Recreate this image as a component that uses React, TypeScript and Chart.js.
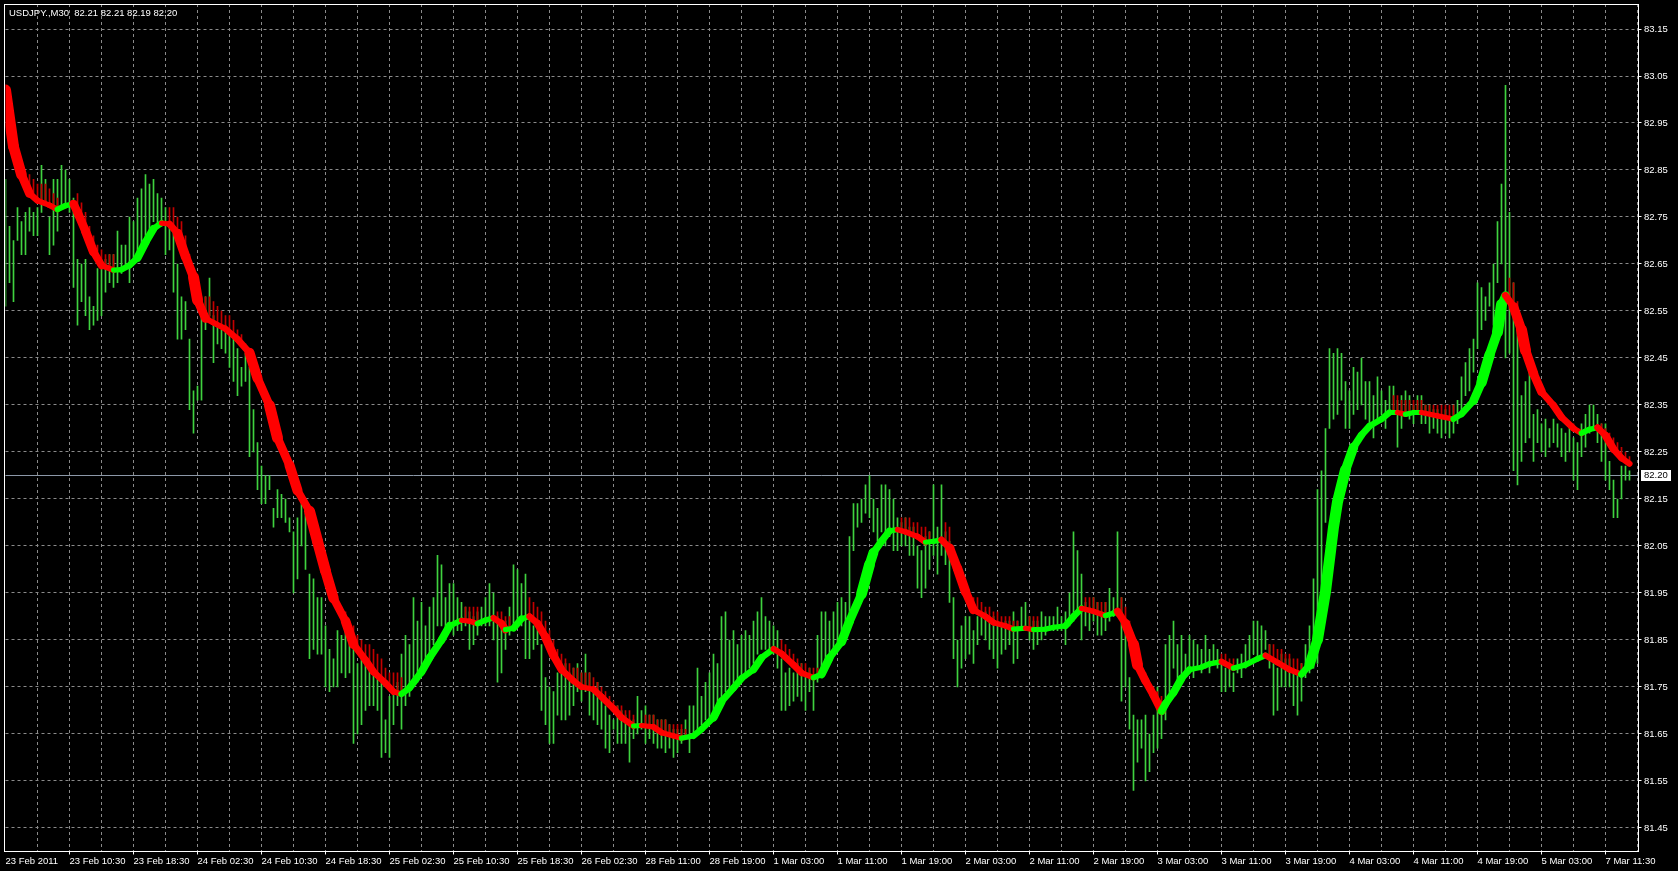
import { useEffect, useRef } from 'react';
import { Chart, registerables } from 'chart.js';

Chart.register(...registerables);

const TITLE = 'USDJPY.,M30  82.21 82.21 82.19 82.20';
const CURRENT_PRICE = 82.2;

const TIME_LABELS = [
  '23 Feb 2011', '23 Feb 10:30', '23 Feb 18:30', '24 Feb 02:30', '24 Feb 10:30', '24 Feb 18:30',
  '25 Feb 02:30', '25 Feb 10:30', '25 Feb 18:30', '26 Feb 02:30', '28 Feb 11:00', '28 Feb 19:00',
  '1 Mar 03:00', '1 Mar 11:00', '1 Mar 19:00', '2 Mar 03:00', '2 Mar 11:00', '2 Mar 19:00',
  '3 Mar 03:00', '3 Mar 11:00', '3 Mar 19:00', '4 Mar 03:00', '4 Mar 11:00', '4 Mar 19:00',
  '5 Mar 03:00', '7 Mar 11:30',
];
const BARS_PER_LABEL = 16;
const BARS_PER_GRID = 8;

const PRICE_TICKS = [
  83.15, 83.05, 82.95, 82.85, 82.75, 82.65, 82.55, 82.45, 82.35,
  82.25, 82.15, 82.05, 81.95, 81.85, 81.75, 81.65, 81.55, 81.45,
];
const Y_MIN = 81.401;
const Y_MAX = 83.2032;
const X_MAX = 408.125;

// M30 bar highs (bar 0 = leftmost bar)
const HIGHS = [
  82.83, 82.73, 82.70, 82.77, 82.74, 82.76, 82.77, 82.76, 82.77, 82.86,
  82.83, 82.75, 82.83, 82.83, 82.86, 82.85, 82.83, 82.79, 82.66, 82.65,
  82.66, 82.58, 82.56, 82.64, 82.64, 82.66, 82.67, 82.67, 82.72, 82.69,
  82.69, 82.75, 82.74, 82.79, 82.81, 82.84, 82.82, 82.83, 82.80, 82.79,
  82.77, 82.74, 82.72, 82.65, 82.58, 82.57, 82.49, 82.38, 82.39, 82.57,
  82.58, 82.62, 82.54, 82.52, 82.51, 82.52, 82.51, 82.50, 82.47, 82.43,
  82.46, 82.43, 82.34, 82.27, 82.22, 82.20, 82.20, 82.13, 82.17, 82.16,
  82.15, 82.11, 82.08, 82.11, 82.14, 82.12, 81.99, 81.98, 81.94, 81.94,
  81.88, 81.83, 81.81, 81.87, 81.86, 81.87, 81.87, 81.84, 81.80, 81.81,
  81.81, 81.80, 81.78, 81.77, 81.77, 81.68, 81.73, 81.74, 81.76, 81.82,
  81.86, 81.84, 81.94,
  81.89, 81.93, 81.88, 81.92, 81.94, 82.03, 82.01, 81.94, 81.97, 81.97,
  81.94, 81.93, 81.92, 81.91, 81.90, 81.91, 81.92, 81.94, 81.97, 81.95,
  81.90, 81.88, 81.89, 81.92, 82.01, 82.00, 81.97, 81.99, 81.90, 81.88,
  81.88, 81.84, 81.77, 81.75, 81.74, 81.78, 81.78, 81.80, 81.78, 81.79,
  81.80, 81.78, 81.82, 81.78, 81.74, 81.76, 81.73, 81.71, 81.69, 81.68,
  81.71, 81.70, 81.69, 81.68, 81.68, 81.73, 81.70, 81.71, 81.69, 81.69,
  81.68, 81.68, 81.68, 81.67, 81.66, 81.66, 81.66, 81.68, 81.71, 81.71,
  81.79, 81.73, 81.76, 81.78, 81.82, 81.80, 81.90, 81.91, 81.85, 81.87,
  81.84, 81.86, 81.87, 81.86, 81.89, 81.91, 81.94, 81.90, 81.89, 81.88,
  81.87, 81.81, 81.78, 81.79, 81.78, 81.80, 81.80, 81.78, 81.79, 81.77,
  81.86,
  81.91, 81.91, 81.89, 81.91, 81.93, 81.94, 81.93, 82.07, 82.14, 82.14,
  82.15, 82.18, 82.20, 82.15, 82.13, 82.18, 82.18, 82.17, 82.15, 82.11,
  82.10, 82.11, 82.09, 82.09, 82.05, 82.04, 82.07, 82.08, 82.18, 82.09,
  82.18, 82.08, 82.06, 81.94, 81.85, 81.88, 81.90, 81.90, 81.87, 81.90,
  81.91, 81.91, 81.90, 81.90, 81.89, 81.88, 81.89, 81.89, 81.91, 81.89,
  81.92, 81.93, 81.90, 81.89, 81.89, 81.91, 81.90, 81.90, 81.90, 81.92,
  81.90, 81.91, 81.95, 82.08, 82.04, 81.99, 81.93, 81.92, 81.94, 81.93,
  81.91, 81.93, 81.96, 81.94, 82.08, 81.94, 81.88, 81.77, 81.69, 81.68,
  81.68, 81.69, 81.65, 81.69, 81.75, 81.69, 81.84, 81.86, 81.89, 81.84,
  81.86, 81.82, 81.86, 81.85, 81.84, 81.83, 81.86, 81.83, 81.84, 81.83,
  81.81,
  81.79, 81.80, 81.78, 81.81, 81.82, 81.84, 81.86, 81.89, 81.89, 81.88,
  81.87, 81.84, 81.80, 81.79, 81.82, 81.81, 81.81, 81.79, 81.78, 81.80,
  81.84, 81.88, 81.98, 82.17, 82.21, 82.30, 82.47, 82.46, 82.47, 82.46,
  82.40, 82.38, 82.43, 82.42, 82.45, 82.40, 82.40, 82.37, 82.41, 82.38,
  82.36, 82.39, 82.39, 82.36, 82.37, 82.38, 82.37, 82.35, 82.37, 82.37,
  82.35, 82.35, 82.34, 82.34, 82.33, 82.34, 82.32, 82.35, 82.36, 82.41,
  82.44, 82.47, 82.49, 82.61, 82.60, 82.58, 82.61, 82.65, 82.74, 82.82,
  83.03, 82.76, 82.61, 82.55, 82.37, 82.40, 82.44, 82.33, 82.34, 82.31,
  82.32, 82.30, 82.32, 82.31, 82.30, 82.29, 82.31, 82.28, 82.27, 82.31,
  82.33, 82.35, 82.35, 82.33, 82.31, 82.31, 82.23, 82.19, 82.15, 82.22,
  82.22, 82.21,
];

// M30 bar lows
const LOWS = [
  82.56, 82.61, 82.57, 82.70, 82.67, 82.67, 82.72, 82.71, 82.71, 82.76,
  82.78, 82.67, 82.69, 82.72, 82.77, 82.78, 82.76, 82.60, 82.52, 82.57,
  82.54, 82.51, 82.52, 82.53, 82.54, 82.59, 82.61, 82.60, 82.61, 82.63,
  82.64, 82.61, 82.65, 82.66, 82.69, 82.70, 82.72, 82.74, 82.73, 82.73,
  82.67, 82.68, 82.59, 82.49, 82.49, 82.51, 82.34, 82.29, 82.36, 82.36,
  82.51, 82.54, 82.44, 82.48, 82.47, 82.46, 82.43, 82.40, 82.37, 82.39,
  82.40, 82.24, 82.25, 82.17, 82.14, 82.14, 82.17, 82.09, 82.11, 82.11,
  82.10, 82.08, 81.95, 81.98, 82.05, 82.00, 81.81, 81.83, 81.82, 81.82,
  81.75, 81.74, 81.75, 81.75, 81.78, 81.77, 81.78, 81.63, 81.65, 81.67,
  81.70, 81.71, 81.71, 81.70, 81.60, 81.61, 81.60, 81.67, 81.71, 81.66,
  81.71, 81.73, 81.75,
  81.76, 81.79, 81.80, 81.82, 81.84, 81.88, 81.88, 81.86, 81.88, 81.86,
  81.87, 81.87, 81.88, 81.83, 81.84, 81.86, 81.88, 81.88, 81.88, 81.85,
  81.76, 81.78, 81.83, 81.86, 81.88, 81.88, 81.88, 81.81, 81.81, 81.83,
  81.84, 81.70, 81.67, 81.63, 81.63, 81.69, 81.68, 81.68, 81.69, 81.71,
  81.74, 81.72, 81.74, 81.69, 81.68, 81.67, 81.66, 81.62, 81.61, 81.66,
  81.63, 81.63, 81.63, 81.59, 81.64, 81.65, 81.66, 81.63, 81.64, 81.63,
  81.62, 81.62, 81.61, 81.62, 81.60, 81.61, 81.63, 81.64, 81.61, 81.65,
  81.66, 81.67, 81.68, 81.68, 81.70, 81.71, 81.72, 81.74, 81.74, 81.75,
  81.76, 81.77, 81.78, 81.79, 81.80, 81.82, 81.83, 81.83, 81.83, 81.82,
  81.79, 81.70, 81.70, 81.71, 81.72, 81.73, 81.72, 81.70, 81.74, 81.70,
  81.76,
  81.78, 81.79, 81.81, 81.83, 81.84, 81.85, 81.86, 81.88, 82.04, 82.09,
  82.10, 82.12, 82.11, 82.08, 82.06, 82.08, 82.05, 82.07, 82.04, 82.04,
  82.05, 82.05, 82.03, 82.03, 81.96, 81.94, 81.96, 82.00, 82.03, 81.99,
  82.03, 82.01, 81.93, 81.81, 81.75, 81.79, 81.81, 81.82, 81.80, 81.84,
  81.86, 81.85, 81.83, 81.81, 81.79, 81.82, 81.83, 81.84, 81.80, 81.81,
  81.87, 81.87, 81.85, 81.83, 81.84, 81.85, 81.86, 81.87, 81.87, 81.87,
  81.87, 81.84, 81.88, 81.89, 81.91, 81.85, 81.88, 81.87, 81.89, 81.86,
  81.86, 81.87, 81.89, 81.90, 81.90, 81.72, 81.75, 81.66, 81.53, 81.59,
  81.62, 81.55, 81.57, 81.61, 81.62, 81.64, 81.68, 81.73, 81.79, 81.75,
  81.77, 81.78, 81.78, 81.77, 81.79, 81.78, 81.79, 81.78, 81.80, 81.79,
  81.74,
  81.74, 81.75, 81.74, 81.78, 81.77, 81.79, 81.80, 81.82, 81.81, 81.82,
  81.83, 81.79, 81.69, 81.70, 81.75, 81.75, 81.75, 81.71, 81.69, 81.72,
  81.77, 81.78, 81.79, 81.80, 81.87, 82.10, 82.30, 82.32, 82.33, 82.36,
  82.30, 82.30, 82.33, 82.34, 82.35, 82.32, 82.31, 82.28, 82.32, 82.33,
  82.30, 82.34, 82.33, 82.26, 82.30, 82.33, 82.32, 82.31, 82.33, 82.31,
  82.31, 82.29, 82.30, 82.29, 82.28, 82.29, 82.28, 82.29, 82.31, 82.33,
  82.37, 82.38, 82.42, 82.47, 82.51, 82.53, 82.56, 82.52, 82.61, 82.65,
  82.45, 82.46, 82.21, 82.18, 82.23, 82.27, 82.28, 82.23, 82.27, 82.25,
  82.24, 82.26, 82.27, 82.26, 82.24, 82.23, 82.25, 82.19, 82.17, 82.24,
  82.26, 82.29, 82.30, 82.27, 82.23, 82.19, 82.17, 82.11, 82.11, 82.15,
  82.19, 82.19,
];

// Smoothed trend line (bar index, price)
const MA_BARS = [
  0, 2, 4, 6, 8, 11, 13, 15, 17, 18, 20, 22, 24, 27, 29, 31, 33, 35, 37, 39,
  41, 43, 45, 47, 48, 50, 52, 55, 58, 61, 63, 66, 68, 71, 73, 76, 78, 80, 82, 85,
  87, 90, 92, 95, 97, 99, 101, 104, 106, 109, 111, 114, 116, 118, 120, 122, 124, 125, 127, 129,
  131, 133, 135, 137, 139, 142, 144, 147, 149, 152, 154, 157, 159, 162, 164, 167, 169, 172, 174, 177,
  179, 182, 184, 187, 189, 192, 194, 197, 199, 202, 204, 206, 209, 211, 214, 216, 217, 219, 221, 223,
  225, 228, 230, 232, 234, 236, 238, 240, 242, 245, 247, 250, 252, 255, 257, 260, 262, 265, 267, 269,
  272, 275, 277, 278, 280, 282, 283, 285, 287, 289, 290, 292, 294, 296, 299, 301, 304, 307, 310, 313,
  315, 318, 321, 324, 326, 328, 330, 332, 333, 335, 337, 339, 341, 344, 346, 348, 350, 352, 354, 358,
  362, 364, 367, 369, 371, 373, 374, 375, 377, 379, 380, 382, 384, 387, 389, 392, 394, 396, 398, 400,
  402, 404, 406,
];
const MA_VALUES = [
  83.02, 82.90, 82.84, 82.80, 82.785, 82.775, 82.766, 82.774, 82.778, 82.76, 82.72, 82.676, 82.647, 82.637, 82.638, 82.647, 82.663, 82.696, 82.725, 82.737,
  82.735, 82.715, 82.666, 82.622, 82.573, 82.534, 82.525, 82.512, 82.49, 82.461, 82.407, 82.349, 82.28, 82.222, 82.168, 82.124, 82.06, 81.997, 81.939, 81.89,
  81.841, 81.807, 81.782, 81.758, 81.74, 81.735, 81.748, 81.782, 81.812, 81.85, 81.88, 81.892, 81.89, 81.885, 81.892, 81.897, 81.885, 81.872, 81.875, 81.895,
  81.90, 81.885, 81.856, 81.817, 81.787, 81.763, 81.75, 81.745, 81.729, 81.704, 81.685, 81.667, 81.668, 81.665, 81.653, 81.646, 81.641, 81.646, 81.66, 81.685,
  81.719, 81.748, 81.768, 81.787, 81.812, 81.831, 81.821, 81.797, 81.78, 81.77, 81.777, 81.812, 81.846, 81.89, 81.948, 82.01, 82.036, 82.06, 82.082, 82.085,
  82.08, 82.07, 82.058, 82.06, 82.063, 82.046, 82.002, 81.953, 81.914, 81.90, 81.887, 81.88, 81.873, 81.875, 81.872, 81.873, 81.877, 81.88, 81.90, 81.917,
  81.911, 81.902, 81.907, 81.911, 81.885, 81.841, 81.797, 81.763, 81.733, 81.699, 81.714, 81.738, 81.768, 81.787, 81.792, 81.799, 81.804, 81.79, 81.797, 81.81,
  81.817, 81.802, 81.787, 81.777, 81.797, 81.851, 81.953, 82.09, 82.144, 82.212, 82.26, 82.286, 82.305, 82.32, 82.334, 82.334, 82.33, 82.334, 82.334, 82.327,
  82.32, 82.331, 82.359, 82.398, 82.456, 82.505, 82.564, 82.583, 82.559, 82.51, 82.466, 82.417, 82.378, 82.349, 82.324, 82.30, 82.29, 82.298, 82.302, 82.285,
  82.256, 82.237, 82.225,
];

// Thin dark-red wicks above the falling trend line: first bar of each run, then tops and bottoms
const WICK_STARTS = [6, 18, 41, 84, 115, 123, 131, 160, 194, 224, 235, 256, 270, 279, 304, 316, 347, 376, 399];
const WICK_HIGHS = [
  [82.84, 82.83, 82.82, 82.82, 82.82, 82.81, 82.80, 82.79],
  [82.80, 82.78, 82.76, 82.73, 82.71, 82.69, 82.68, 82.67, 82.67, 82.67],
  [82.77, 82.77, 82.75, 82.74, 82.71, 82.67, 82.64, 82.59, 82.58, 82.58, 82.58, 82.57, 82.56, 82.55, 82.54, 82.54, 82.53, 82.51, 82.50, 82.48, 82.47],
  [81.92, 81.91, 81.89, 81.88, 81.86, 81.85, 81.84, 81.84, 81.83, 81.82, 81.81, 81.79, 81.78, 81.78, 81.78, 81.77],
  [81.92, 81.92, 81.92, 81.92],
  [81.91, 81.91, 81.90, 81.90],
  [81.94, 81.93, 81.92, 81.91, 81.89, 81.87, 81.85, 81.83, 81.82, 81.81, 81.80, 81.79, 81.79, 81.78, 81.78, 81.78, 81.77, 81.76, 81.75, 81.74, 81.73, 81.72, 81.71, 81.71, 81.70, 81.70, 81.69],
  [81.69, 81.69, 81.69, 81.68, 81.68, 81.68, 81.67, 81.67, 81.67, 81.67, 81.66],
  [81.85, 81.84, 81.83, 81.82, 81.81, 81.80, 81.80, 81.79, 81.79, 81.79],
  [82.11, 82.11, 82.11, 82.10, 82.10, 82.09, 82.09, 82.08],
  [82.10, 82.09, 82.05, 82.01, 81.98, 81.96, 81.95, 81.94, 81.94, 81.93, 81.92, 81.92, 81.91, 81.91, 81.90, 81.90, 81.90, 81.89, 81.89],
  [81.90, 81.90, 81.90],
  [81.94, 81.94, 81.94, 81.93, 81.93, 81.93],
  [81.94, 81.92, 81.89, 81.86, 81.83, 81.80, 81.78, 81.76, 81.75, 81.74, 81.73],
  [81.82, 81.82, 81.81, 81.81],
  [81.84, 81.84, 81.83, 81.83, 81.82, 81.82, 81.81, 81.81, 81.80],
  [82.37, 82.37, 82.36, 82.36, 82.36, 82.36, 82.36, 82.36, 82.35, 82.35, 82.35, 82.35, 82.35, 82.35, 82.35, 82.35],
  [82.62, 82.61, 82.57, 82.52, 82.49, 82.47, 82.43, 82.41, 82.39, 82.37, 82.36, 82.34, 82.33, 82.32, 82.32, 82.31, 82.31, 82.30],
  [82.31, 82.30, 82.29, 82.28, 82.27, 82.26, 82.25, 82.24],
];
const WICK_LOWS = [
  [82.80, 82.79, 82.785, 82.78, 82.78, 82.775, 82.77, 82.766],
  [82.76, 82.74, 82.72, 82.70, 82.676, 82.66, 82.647, 82.64, 82.638, 82.637],
  [82.735, 82.725, 82.715, 82.69, 82.666, 82.64, 82.622, 82.573, 82.55, 82.534, 82.53, 82.525, 82.52, 82.515, 82.512, 82.505, 82.497, 82.49, 82.48, 82.47, 82.461],
  [81.90, 81.89, 81.87, 81.84, 81.83, 81.82, 81.807, 81.795, 81.782, 81.775, 81.765, 81.758, 81.75, 81.74, 81.738, 81.735],
  [81.89, 81.89, 81.888, 81.885],
  [81.89, 81.885, 81.872, 81.873],
  [81.90, 81.893, 81.885, 81.87, 81.856, 81.837, 81.817, 81.80, 81.787, 81.78, 81.772, 81.763, 81.757, 81.75, 81.748, 81.747, 81.745, 81.737, 81.729, 81.72, 81.712, 81.704, 81.695, 81.685, 81.68, 81.673, 81.667],
  [81.667, 81.666, 81.665, 81.659, 81.653, 81.65, 81.648, 81.646, 81.643, 81.641, 81.641],
  [81.821, 81.81, 81.80, 81.797, 81.79, 81.78, 81.777, 81.774, 81.77, 81.772],
  [82.083, 82.08, 82.077, 82.073, 82.07, 82.064, 82.058, 82.059],
  [82.055, 82.046, 82.025, 82.002, 81.978, 81.953, 81.934, 81.914, 81.907, 81.90, 81.895, 81.891, 81.887, 81.885, 81.882, 81.88, 81.877, 81.873, 81.874],
  [81.873, 81.872, 81.872],
  [81.915, 81.913, 81.911, 81.908, 81.905, 81.902],
  [81.90, 81.885, 81.863, 81.841, 81.797, 81.78, 81.763, 81.748, 81.733, 81.716, 81.699],
  [81.804, 81.80, 81.795, 81.79],
  [81.812, 81.807, 81.802, 81.797, 81.792, 81.787, 81.784, 81.78, 81.777],
  [82.334, 82.334, 82.332, 82.33, 82.332, 82.334, 82.334, 82.334, 82.332, 82.33, 82.329, 82.327, 82.325, 82.323, 82.322, 82.32],
  [82.57, 82.559, 82.53, 82.51, 82.466, 82.44, 82.417, 82.397, 82.378, 82.368, 82.358, 82.349, 82.336, 82.324, 82.316, 82.308, 82.30, 82.295],
  [82.294, 82.285, 82.27, 82.256, 82.247, 82.237, 82.231, 82.225],
];

const BAR_GREEN = '#3fd23f';
const WICK_RED = '#c40000';
const MA_UP = '#00ff00';
const MA_DOWN = '#ff0000';
const GRID_COLOR = '#8a8a8a';
const PRICE_LINE = '#8c98a8';
const FONT_FAMILY = 'Tahoma, "Liberation Sans", Arial, sans-serif';
const FONT_SIZE = 9.5;

const mtPlugin = {
  id: 'mt4look',
  beforeDraw(chart: any) {
    const { ctx, width, height } = chart;
    ctx.save();
    ctx.fillStyle = '#000000';
    ctx.fillRect(0, 0, width, height);
    ctx.restore();
  },
  beforeDatasetsDraw(chart: any) {
    const { ctx, chartArea: a, scales } = chart;
    const x = scales.x;
    const y = scales.y;
    ctx.save();
    ctx.lineWidth = 1;
    ctx.strokeStyle = GRID_COLOR;
    ctx.setLineDash([3, 3]);
    for (let b = BARS_PER_GRID; b <= X_MAX; b += BARS_PER_GRID) {
      const px = Math.floor(x.getPixelForValue(b)) + 0.5;
      ctx.beginPath();
      ctx.moveTo(px, a.top);
      ctx.lineTo(px, a.bottom);
      ctx.stroke();
    }
    for (const v of PRICE_TICKS) {
      const py = Math.floor(y.getPixelForValue(v)) + 0.5;
      ctx.beginPath();
      ctx.moveTo(a.left, py);
      ctx.lineTo(a.right, py);
      ctx.stroke();
    }
    ctx.setLineDash([]);
    ctx.strokeStyle = PRICE_LINE;
    const cp = Math.floor(y.getPixelForValue(CURRENT_PRICE)) + 0.5;
    ctx.beginPath();
    ctx.moveTo(a.left, cp);
    ctx.lineTo(a.right, cp);
    ctx.stroke();
    ctx.restore();
  },
  afterDraw(chart: any) {
    const { ctx, chartArea: a, scales } = chart;
    const x = scales.x;
    const y = scales.y;
    ctx.save();
    ctx.strokeStyle = '#ffffff';
    ctx.lineWidth = 1;
    const L = 4.5;
    const T = 4.5;
    const R = Math.round(a.right) + 0.5;
    const B = Math.round(a.bottom) + 0.5;
    ctx.strokeRect(L, T, R - L, B - T);
    ctx.beginPath();
    for (const v of PRICE_TICKS) {
      const py = Math.floor(y.getPixelForValue(v)) + 0.5;
      ctx.moveTo(R, py);
      ctx.lineTo(R + 3, py);
    }
    for (let i = 1; i < TIME_LABELS.length; i++) {
      const px = Math.floor(x.getPixelForValue(i * BARS_PER_LABEL)) + 0.5;
      ctx.moveTo(px, B);
      ctx.lineTo(px, B + 3);
    }
    ctx.stroke();
    const cp = Math.floor(y.getPixelForValue(CURRENT_PRICE));
    ctx.fillStyle = '#ffffff';
    ctx.fillRect(R + 2.5, cp - 5, 30, 11);
    ctx.fillStyle = '#000000';
    ctx.font = `${FONT_SIZE}px ${FONT_FAMILY}`;
    ctx.textBaseline = 'middle';
    ctx.textAlign = 'left';
    ctx.fillText(CURRENT_PRICE.toFixed(2), R + 5.5, cp + 0.5);
    ctx.fillStyle = '#ffffff';
    ctx.fillText(TITLE, 9, 13);
    ctx.restore();
  },
};

export default function App() {
  const ref = useRef<HTMLCanvasElement>(null);
  useEffect(() => {
    const canvas = ref.current;
    if (!canvas) return;
    const barData = HIGHS.map((h, i) => ({ x: i, y: [LOWS[i], h] }));
    const maData = MA_BARS.map((b, i) => ({ x: b, y: MA_VALUES[i] }));
    const wickData: any[] = [];
    WICK_STARTS.forEach((s, k) => {
      WICK_HIGHS[k].forEach((h, j) => wickData.push({ x: s + j, y: [WICK_LOWS[k][j], h] }));
    });
    const font = { family: FONT_FAMILY, size: FONT_SIZE };
    const chart = new Chart(canvas, {
      type: 'bar',
      data: {
        datasets: [
          {
            type: 'line',
            label: 'trend',
            data: maData as any,
            borderWidth: 5,
            borderColor: MA_UP,
            pointRadius: 0,
            tension: 0,
            borderJoinStyle: 'round',
            borderCapStyle: 'round',
            order: 0,
            segment: {
              borderColor: (c: any) => (c.p1.parsed.y >= c.p0.parsed.y ? MA_UP : MA_DOWN),
              borderWidth: (c: any) => {
                const dx = Math.max(1, Math.abs(c.p1.x - c.p0.x));
                const dy = Math.abs(c.p1.y - c.p0.y);
                return Math.min(11, 5 + (dy / dx) * 1.6);
              },
            },
          } as any,
          {
            type: 'bar',
            label: 'wicks',
            data: wickData,
            backgroundColor: WICK_RED,
            borderWidth: 0,
            barThickness: 1,
            grouped: false,
            order: 1,
          } as any,
          {
            type: 'bar',
            label: 'bars',
            data: barData as any,
            backgroundColor: BAR_GREEN,
            borderWidth: 0,
            barThickness: 1,
            grouped: false,
            order: 2,
          } as any,
        ],
      },
      options: {
        responsive: false,
        animation: false,
        devicePixelRatio: 1,
        events: [],
        layout: { padding: { left: 5.5, top: 4, right: 0, bottom: 0 } },
        plugins: { legend: { display: false }, tooltip: { enabled: false } },
        scales: {
          x: {
            type: 'linear',
            position: 'bottom',
            min: 0,
            max: X_MAX,
            offset: false,
            grid: { display: true, drawOnChartArea: false, drawTicks: true, tickLength: 3, tickColor: 'rgba(0,0,0,0)', offset: false },
            border: { display: false },
            afterBuildTicks: (s: any) => {
              const t = [];
              for (let b = 0; b <= X_MAX; b += BARS_PER_GRID) t.push({ value: b });
              s.ticks = t;
            },
            afterFit: (s: any) => {
              s.height = 20;
              s.paddingLeft = 0;
              s.paddingRight = 0;
            },
            ticks: {
              autoSkip: false,
              maxRotation: 0,
              minRotation: 0,
              align: 'start',
              padding: 2,
              color: '#ffffff',
              font,
              callback: (v: any) => {
                const n = Number(v);
                if (n % BARS_PER_LABEL !== 0) return '';
                return TIME_LABELS[n / BARS_PER_LABEL] ?? '';
              },
            },
          } as any,
          y: {
            type: 'linear',
            position: 'right',
            min: Y_MIN,
            max: Y_MAX,
            beginAtZero: false,
            grid: { display: true, drawOnChartArea: false, drawTicks: true, tickLength: 3, tickColor: 'rgba(0,0,0,0)' },
            border: { display: false },
            afterBuildTicks: (s: any) => {
              s.ticks = PRICE_TICKS.map((v) => ({ value: v }));
            },
            afterFit: (s: any) => {
              s.width = 40;
              s.paddingTop = 0;
              s.paddingBottom = 0;
            },
            ticks: {
              padding: 3,
              color: '#ffffff',
              font,
              callback: (v: any) => Number(v).toFixed(2),
            },
          } as any,
        },
      },
      plugins: [mtPlugin],
    });
    return () => chart.destroy();
  }, []);
  return (
    <div style={{ position: 'fixed', left: 0, top: 0, width: 1678, height: 871, background: '#000' }}>
      <canvas ref={ref} width={1678} height={871} style={{ display: 'block', width: 1678, height: 871 }} />
    </div>
  );
}
